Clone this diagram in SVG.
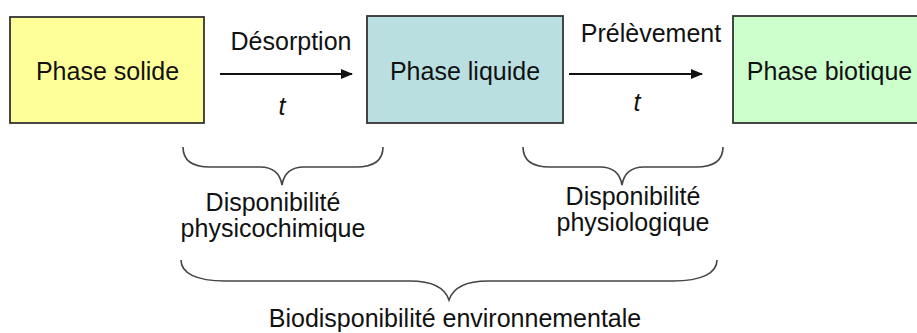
<svg xmlns="http://www.w3.org/2000/svg" width="917" height="333" viewBox="0 0 917 333">
  <defs>
    <style>
      .box { stroke: #333333; stroke-width: 1.8; }
      .lbl { font-family: "Liberation Sans", Arial, sans-serif; font-size: 25px; fill: #111111; text-anchor: middle; }
      .it { font-style: italic; }
      .conn { stroke: #111111; stroke-width: 2; fill: none; }
      .brace { stroke: #444444; stroke-width: 1.6; fill: none; }
    </style>
    <marker id="ah" markerWidth="12" markerHeight="10" refX="11" refY="5" orient="auto" markerUnits="userSpaceOnUse">
      <path d="M0,0 L12,5 L0,10 Z" fill="#111111"/>
    </marker>
  </defs>
  <rect width="917" height="333" fill="#ffffff"/>

  <g id="solide">
    <rect class="box" x="10" y="17" width="194" height="106" fill="#FFFF99"/>
    <text class="lbl" x="107.5" y="80">Phase solide</text>
  </g>
  <g id="liquide">
    <rect class="box" x="367" y="16" width="196" height="107" fill="#B9DFE1"/>
    <text class="lbl" x="465" y="80">Phase liquide</text>
  </g>
  <g id="biotique">
    <rect class="box" x="733" y="16" width="200" height="107" fill="#CCFFCC"/>
    <text class="lbl" x="829.5" y="80">Phase biotique</text>
  </g>

  <g id="connectors">
    <line class="conn" x1="220" y1="74" x2="352" y2="74" marker-end="url(#ah)"/>
    <text class="lbl" x="291" y="50">Désorption</text>
    <text class="lbl it" x="282" y="115">t</text>
    <line class="conn" x1="569" y1="74" x2="702" y2="74" marker-end="url(#ah)"/>
    <text class="lbl" x="651" y="42">Prélèvement</text>
    <text class="lbl it" x="637" y="111">t</text>
  </g>

  <g id="dispo-physicochimique">
    <path class="brace" d="M183,147 C183,160 192,167 210,167 L260,167 C273,167 280,173 282,185 C284,173 291,167 304,167 L356,167 C374,167 383,160 383,147"/>
    <text class="lbl" x="273" y="211">Disponibilité</text>
    <text class="lbl" x="273" y="237">physicochimique</text>
  </g>
  <g id="dispo-physiologique">
    <path class="brace" d="M523,147 C523,160 532,167 550,167 L600,167 C613,167 620,173 622,185 C624,173 631,167 644,167 L696,167 C714,167 723,160 723,147"/>
    <text class="lbl" x="633" y="205">Disponibilité</text>
    <text class="lbl" x="633" y="231">physiologique</text>
  </g>
  <g id="biodispo">
    <path class="brace" d="M181,260 C181,273 196,281 225,281 L410,281 C432,281 445,288 449,300 C453,288 466,281 488,281 L673,281 C702,281 717,273 717,260"/>
    <text class="lbl" x="455" y="327">Biodisponibilité environnementale</text>
  </g>
</svg>
